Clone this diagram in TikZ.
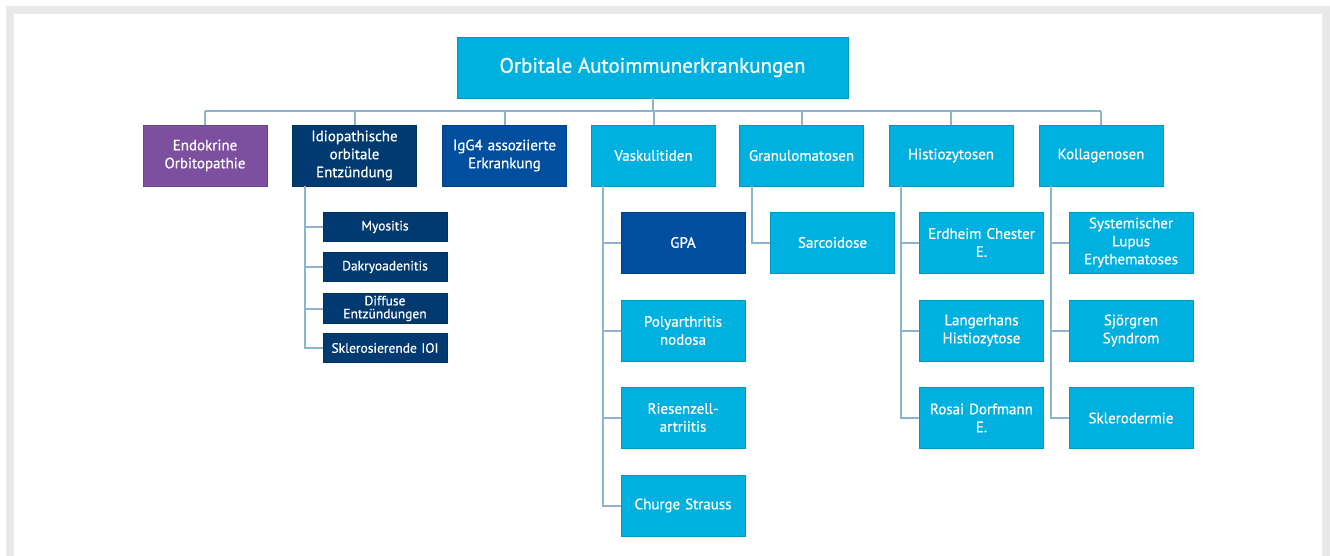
\documentclass[tikz,border=0pt]{standalone}
\usepackage{fontspec}
\setmainfont{PT Sans}[FakeBold=0.6]
\usetikzlibrary{positioning}
\definecolor{cyanbox}{RGB}{0,176,222}
\definecolor{purplebox}{RGB}{124,80,158}
\definecolor{navybox}{RGB}{0,58,112}
\definecolor{bluebox}{RGB}{0,78,158}
\definecolor{conn}{RGB}{140,180,205}
\definecolor{frame}{RGB}{232,232,232}
\tikzset{
  box/.style={rectangle, draw=#1!85!black, line width=0.6pt, fill=#1, text=white, align=center, inner sep=2pt, font=\fontsize{15}{18}\selectfont},
  lvl/.style={box=#1, minimum width=123pt, minimum height=61pt, text width=120pt},
  small/.style={box=navybox, minimum width=122pt, minimum height=29pt, text width=120pt, font=\fontsize{13.5}{13}\selectfont},
  wire/.style={draw=conn, line width=2pt},
}
\begin{document}
\begin{tikzpicture}[x=1pt,y=-1pt]
\useasboundingbox (0,0) rectangle (1330,556);
\fill[white] (0,0) rectangle (1330,556);
\fill[frame] (6,6) rectangle (1330,14);
\fill[frame] (6,6) rectangle (14,556);
\fill[frame] (1322,6) rectangle (1330,556);

% top
\node[box=cyanbox, minimum width=391pt, minimum height=61pt, font=\fontsize{21}{24}\selectfont] (top) at (652.5,67.5) {Orbitale Autoimmunerkrankungen};

% level 1
\node[lvl=purplebox] (endo) at (205,155.5) {Endokrine\\Orbitopathie};
\node[lvl=navybox] (idio) at (354.5,155.5) {Idiopathische\\orbitale\\Entzündung};
\node[lvl=bluebox] (igg) at (504.5,155.5) {IgG4 assoziierte\\Erkrankung};
\node[lvl=cyanbox] (vask) at (653.5,155.5) {Vaskulitiden};
\node[lvl=cyanbox] (gran) at (801.5,155.5) {Granulomatosen};
\node[lvl=cyanbox] (hist) at (951,155.5) {Histiozytosen};
\node[lvl=cyanbox] (koll) at (1101,155.5) {Kollagenosen};

% bus
\coordinate (busL) at (205,111);
\coordinate (busR) at (1101,111);
\coordinate (busM) at (652.5,111);
\draw[wire] (busL) -- (busR);
\draw[wire] (top.south) -- (busM);
\foreach \n in {endo,idio,igg,vask,gran,hist,koll}{
  \draw[wire] (\n.north) -- (\n.north |- busM);
}

% idio children
\node[small] (myo) at (385,227) {Myositis};
\node[small] (dak) at (385,267) {Dakryoadenitis};
\node[small] (dif) at (385,308.5) {Diffuse\\Entzündungen};
\node[small] (skl) at (385,348) {Sklerosierende IOI};
\coordinate (idioS) at (305,186);
\foreach \c in {myo,dak,dif,skl}{ \draw[wire] (idioS) |- (\c.west); }

% vask children
\node[lvl=bluebox, minimum width=122pt] (gpa) at (683,242.5) {GPA};
\node[lvl=cyanbox, minimum width=122pt] (pan) at (683,330.5) {Polyarthritis\\nodosa};
\node[lvl=cyanbox, minimum width=122pt] (ries) at (683,417.5) {Riesenzell-\\artriitis};
\node[lvl=cyanbox, minimum width=122pt] (chur) at (683,505.5) {Churge Strauss};
\coordinate (vaskS) at (603,186);
\foreach \c in {gpa,pan,ries,chur}{ \draw[wire] (vaskS) |- (\c.west); }

% gran children
\node[lvl=cyanbox, minimum width=121pt] (sarc) at (832.5,242.5) {Sarcoidose};
\coordinate (granS) at (752,186);
\draw[wire] (granS) |- (sarc.west);

% hist children
\node[lvl=cyanbox, minimum width=121pt] (erd) at (981.5,242.5) {Erdheim Chester\\E.};
\node[lvl=cyanbox, minimum width=121pt] (lang) at (981.5,330.5) {Langerhans\\Histiozytose};
\node[lvl=cyanbox, minimum width=121pt] (ros) at (981.5,418) {Rosai Dorfmann\\E.};
\coordinate (histS) at (901,186);
\foreach \c in {erd,lang,ros}{ \draw[wire] (histS) |- (\c.west); }

% koll children
\node[lvl=cyanbox, minimum width=122pt] (sle) at (1131,242.5) {Systemischer\\Lupus\\Erythematoses};
\node[lvl=cyanbox, minimum width=122pt] (sjo) at (1131,330.5) {Sjörgren\\Syndrom};
\node[lvl=cyanbox, minimum width=122pt] (sklero) at (1131,418) {Sklerodermie};
\coordinate (kollS) at (1051,186);
\foreach \c in {sle,sjo,sklero}{ \draw[wire] (kollS) |- (\c.west); }
\end{tikzpicture}
\end{document}
